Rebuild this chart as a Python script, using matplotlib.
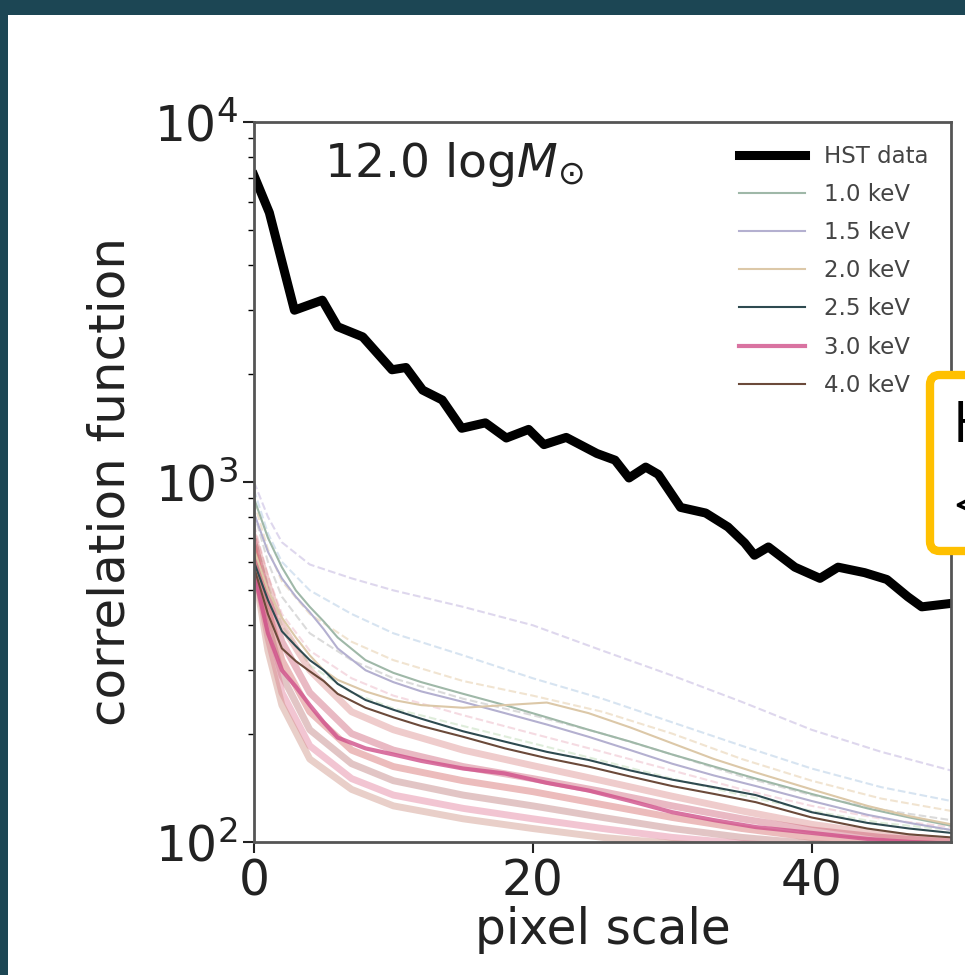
import matplotlib
matplotlib.use("Agg")
import matplotlib.pyplot as plt
from matplotlib.patches import Rectangle, FancyBboxPatch

# HST measurement (black thick curve)
hst_x = [0, 1.1, 2.9, 4.9, 6.0, 7.8, 9.9, 10.9, 12.1, 13.5, 14.9, 16.6, 18.1, 19.7,
         20.8, 22.4, 24.6, 25.9, 26.9, 28.1, 29.0, 30.6, 32.4, 34.0, 35.2, 35.9,
         36.9, 38.8, 40.6, 41.9, 43.8, 45.4, 46.9, 47.9, 50]
hst_y = [7100, 5600, 3000, 3200, 2700, 2530, 2050, 2080, 1800, 1690, 1410, 1460,
         1325, 1400, 1270, 1330, 1200, 1150, 1026, 1100, 1050, 850, 820, 750, 677,
         626, 660, 580, 540, 580, 560, 536, 480, 450, 460]

# mean model curves per keV
xm = [0, 1, 2, 3, 4, 5, 6, 8, 10, 12, 15, 18, 21, 24, 27, 30, 33, 36, 40, 44, 47, 50]
kev10 = [900, 700, 580, 500, 450, 410, 370, 320, 295, 278, 258, 240, 222, 205, 190, 175, 162, 150, 136, 124, 117, 111]
kev15 = [820, 640, 540, 480, 435, 390, 345, 300, 278, 262, 245, 228, 212, 196, 180, 165, 153, 143, 130, 119, 113, 108]
kev20 = [650, 500, 420, 370, 330, 300, 282, 262, 248, 240, 236, 240, 244, 228, 208, 188, 170, 156, 140, 126, 118, 112]
kev25 = [600, 470, 385, 350, 320, 300, 275, 248, 233, 220, 203, 190, 178, 169, 158, 149, 142, 135, 121, 113, 109, 106]
kev30 = [560, 380, 300, 270, 240, 215, 195, 182, 175, 168, 160, 155, 146, 139, 130, 121, 115, 110, 106, 102, 100, 99]
kev40 = [580, 430, 345, 318, 298, 280, 258, 236, 222, 210, 196, 182, 171, 162, 152, 143, 136, 129, 117, 109, 105, 103]

# faint individual realisations
xf = [0, 1, 2, 4, 7, 10, 15, 20, 25, 30, 35, 40, 45, 50]
faint_hi = [
    [1000, 800, 680, 590, 540, 500, 450, 400, 340, 290, 245, 205, 178, 158],
    [950, 720, 600, 500, 430, 380, 330, 285, 250, 215, 185, 160, 142, 130],
    [880, 650, 530, 430, 360, 320, 280, 255, 230, 200, 170, 148, 132, 122],
    [820, 600, 480, 380, 320, 285, 250, 225, 200, 175, 152, 135, 123, 115],
    [760, 550, 430, 340, 285, 255, 225, 200, 178, 158, 140, 126, 116, 110],
    [720, 520, 400, 310, 260, 235, 210, 188, 168, 150, 135, 122, 113, 108],
]
faint_hi_colors = ["#b7a8d8", "#a8c4e0", "#e0c49a", "#b0b0b0", "#eab0c0", "#b8d8b0"]
faint_lo = [
    [700, 520, 400, 300, 230, 205, 180, 163, 148, 134, 122, 112, 105, 101],
    [680, 480, 360, 260, 200, 180, 162, 150, 138, 126, 116, 108, 103, 100],
    [650, 440, 320, 230, 180, 162, 148, 138, 127, 117, 109, 103, 100, 98],
    [620, 400, 290, 205, 165, 148, 135, 126, 117, 109, 103, 99, 97, 96],
    [600, 370, 260, 185, 150, 135, 124, 116, 109, 103, 99, 97, 96, 95],
    [580, 340, 240, 170, 140, 126, 116, 109, 103, 99, 97, 95, 95, 94],
]
faint_lo_colors = ["#d88080", "#c8506a", "#d05858", "#b87070", "#e07090", "#c88878"]

fig = plt.figure(figsize=(9.65, 9.75), dpi=100, facecolor="#1c4654")
fig.patches.append(Rectangle((8 / 965, 0), 1, 1 - 15 / 975, transform=fig.transFigure,
                             facecolor="white", edgecolor="none", zorder=-5))

ax = fig.add_axes([254 / 965, 1 - 842 / 975, 697 / 965, 720 / 975])

for ys, c in zip(faint_hi, faint_hi_colors):
    ax.plot(xf, ys, color=c, lw=1.5, ls="--", alpha=0.45)
for ys, c in zip(faint_lo, faint_lo_colors):
    ax.plot(xf, ys, color=c, lw=5, alpha=0.4)

ax.plot(hst_x, hst_y, color="black", lw=6.5, label="HST data")
ax.plot(xm, kev10, color="#9fb8a8", lw=1.5, label="1.0 keV")
ax.plot(xm, kev15, color="#b4b0d0", lw=1.5, label="1.5 keV")
ax.plot(xm, kev20, color="#dcc8a8", lw=1.5, label="2.0 keV")
ax.plot(xm, kev25, color="#2e4a50", lw=1.5, label="2.5 keV")
ax.plot(xm, kev30, color="#d0508a", lw=3, alpha=0.8, label="3.0 keV")
ax.plot(xm, kev40, color="#6b4a3a", lw=1.5, label="4.0 keV")

ax.set_yscale("log")
ax.set_xlim(0, 50)
ax.set_ylim(100, 10000)
ax.set_xticks([0, 20, 40])
ax.tick_params(labelsize=35, length=8, width=1.5, colors="#222222")
ax.tick_params(which="minor", length=4, width=1.0)
for s in ax.spines.values():
    s.set_color("#555555")
    s.set_linewidth(2)

ax.set_xlabel("pixel scale", fontsize=35, color="#222222", labelpad=0)
ax.set_ylabel("correlation function", fontsize=36, color="#222222", labelpad=14)
ax.text(0.1, 0.975, r"12.0 log$M_{\odot}$", transform=ax.transAxes, fontsize=34,
        color="#222222", va="top")

ax.legend(loc="upper right", fontsize=16.5, frameon=False, handlelength=2.9,
          labelspacing=0.66, labelcolor="#444444", borderaxespad=0.6)

# callout box clipped at right edge of the slide
box = FancyBboxPatch((930 / 965, 1 - 551 / 975), 0.2, 176 / 975,
                     boxstyle="round,pad=0,rounding_size=0.01", transform=fig.transFigure,
                     facecolor="white", edgecolor="#ffc000", linewidth=6, zorder=5)
fig.patches.append(box)
fig.text(953 / 965, 1 - 442 / 975, "H", fontsize=40, color="black", zorder=6,
         family="Open Sans")
fig.text(953 / 965, 1 - 525 / 975, "<", fontsize=40, color="black", zorder=6,
         family="Open Sans")

fig.savefig("out.png", dpi=100, facecolor=fig.get_facecolor())
